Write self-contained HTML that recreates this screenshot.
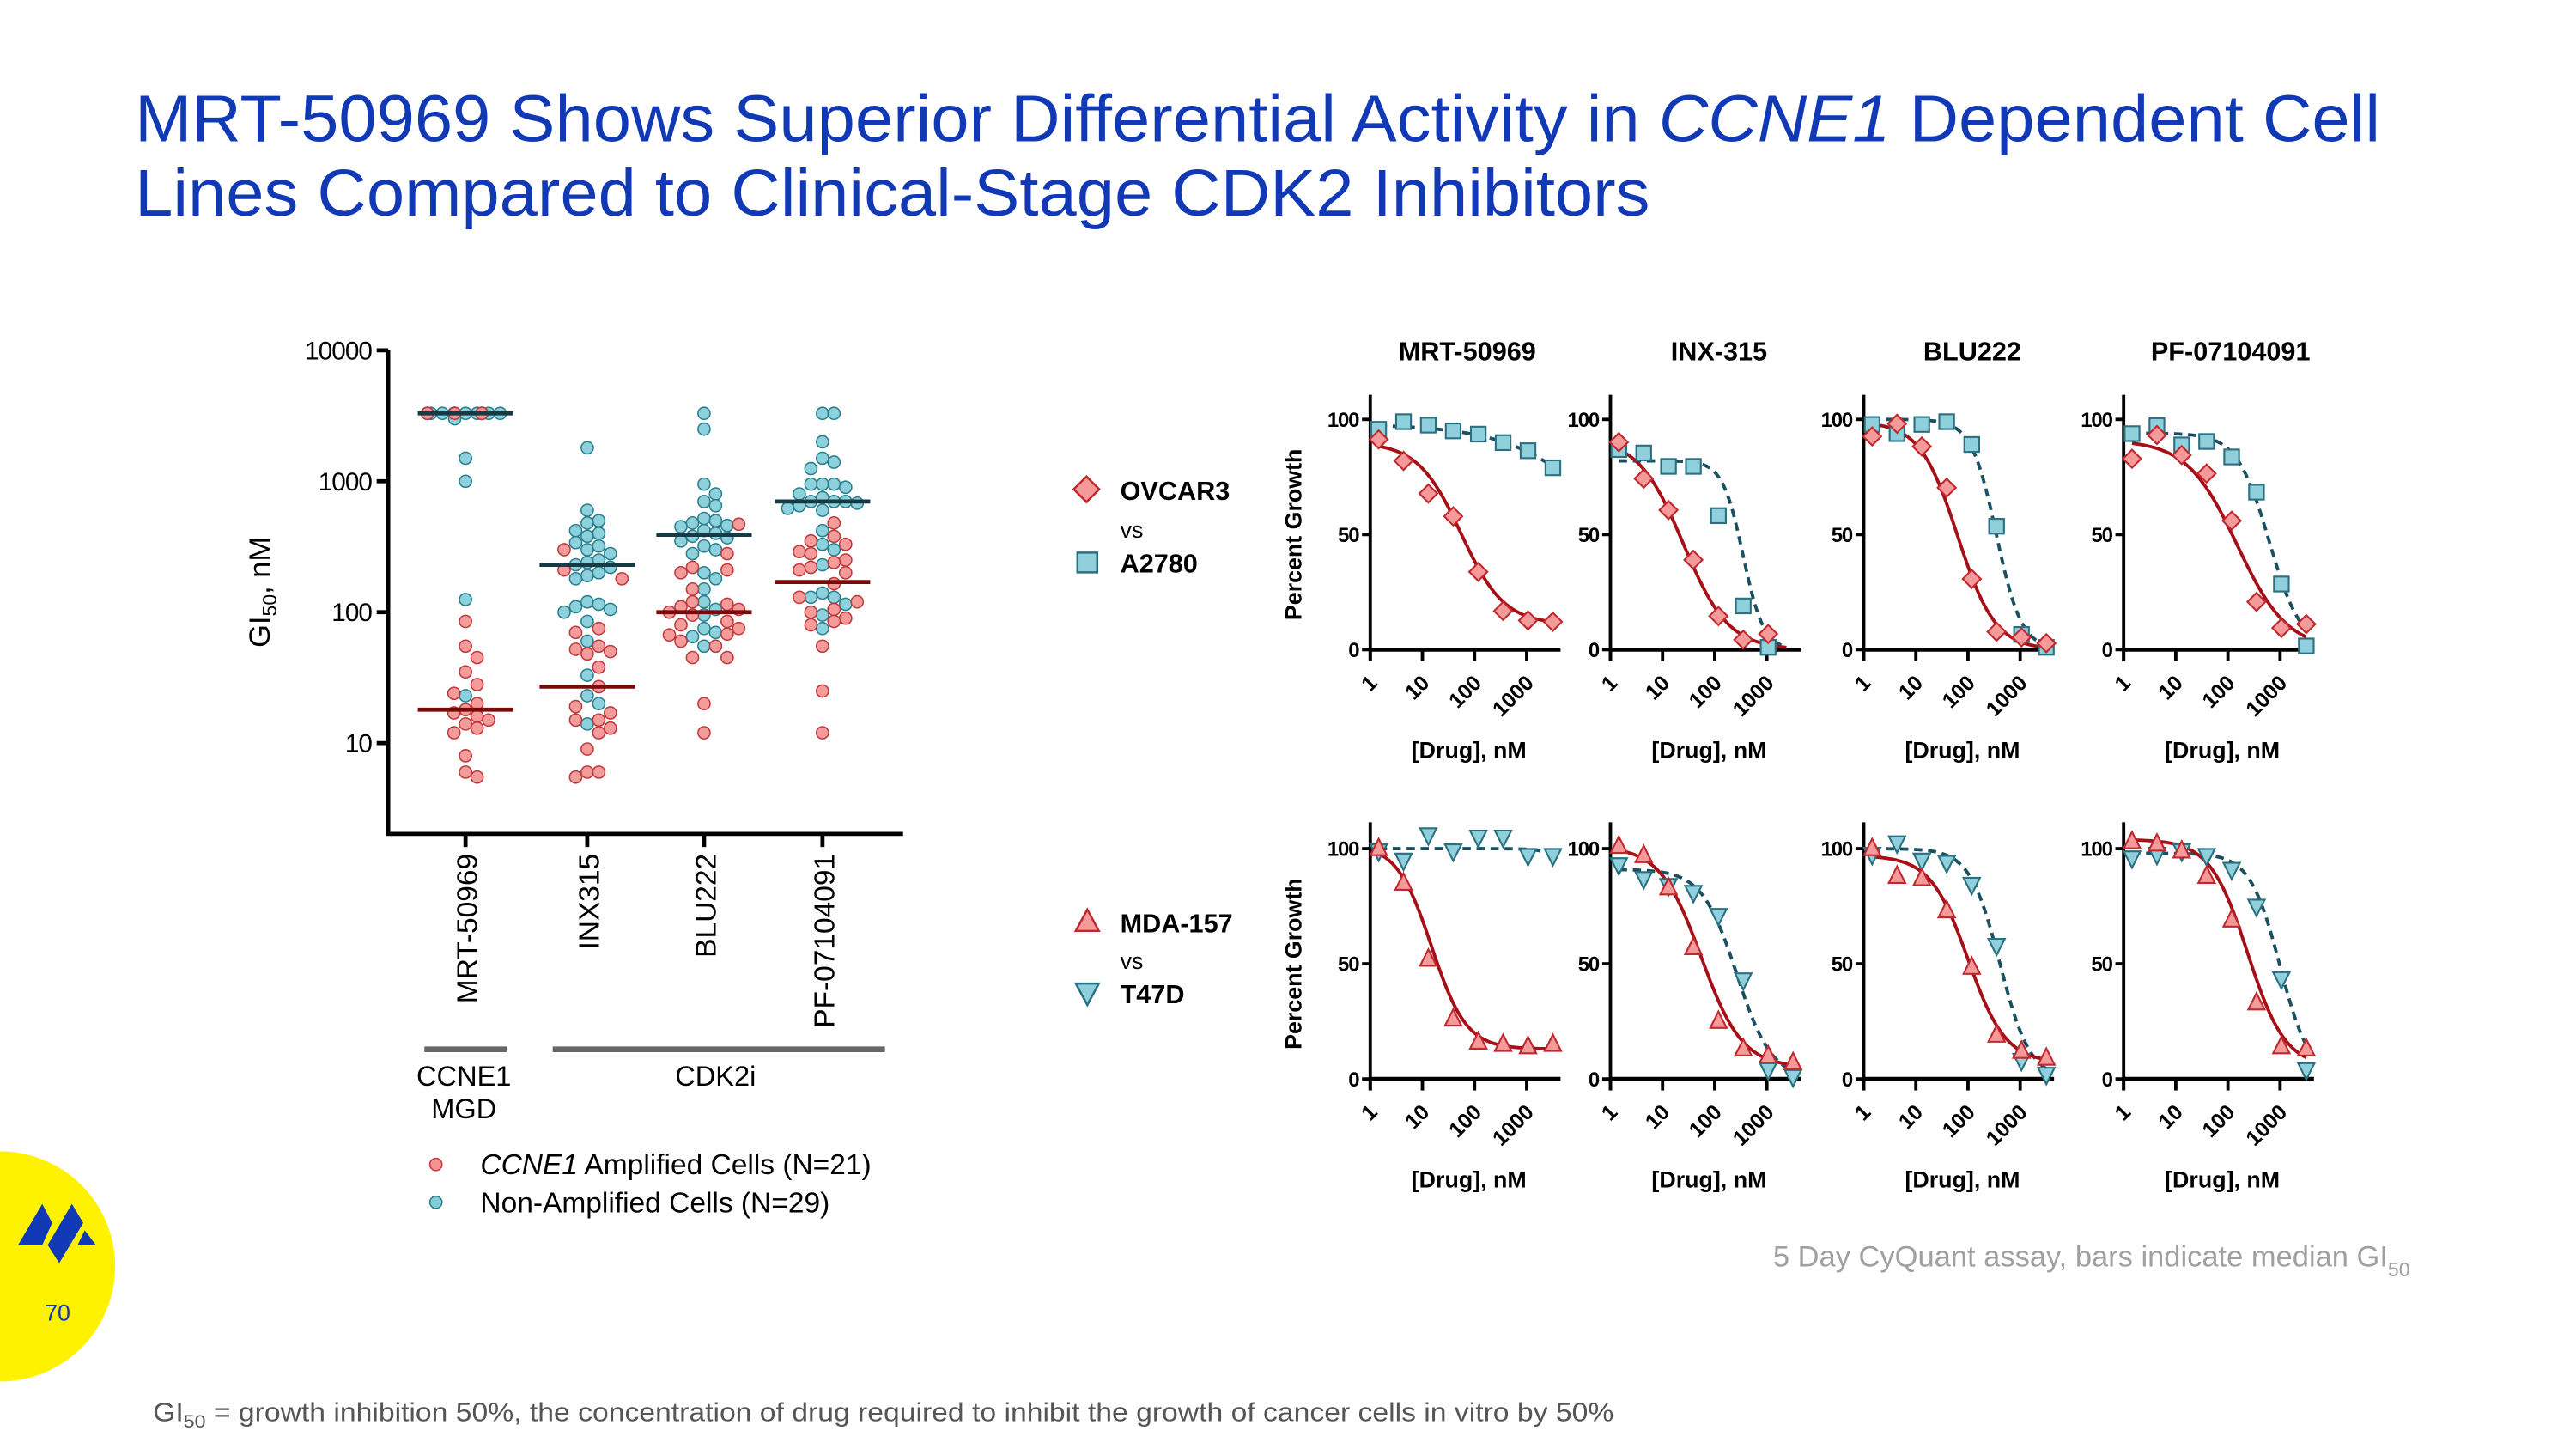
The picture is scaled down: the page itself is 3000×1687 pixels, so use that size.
<!DOCTYPE html>
<html><head><meta charset="utf-8"><style>
html,body{margin:0;padding:0;background:#fff}
svg{display:block}
text{font-family:"Liberation Sans",Arial,sans-serif}
</style></head><body>
<svg id="root" width="3000" height="1687" viewBox="0 0 1566 881" preserveAspectRatio="none" xmlns="http://www.w3.org/2000/svg">
<rect x="0" y="0" width="1566" height="881" fill="#fff"/>
<g fill="#1139b6" font-size="40">
<text x="82" y="86" textLength="1365" lengthAdjust="spacingAndGlyphs">MRT-50969 Shows Superior Differential Activity in <tspan font-style="italic">CCNE1</tspan> Dependent Cell</text>
<text x="82" y="131" textLength="921" lengthAdjust="spacingAndGlyphs">Lines Compared to Clinical-Stage CDK2 Inhibitors</text>
</g>

<g id="dotplot"></g>
<g id="panels"></g>

<g font-weight="bold" font-size="16">
<rect x="655" y="292" width="11" height="11" transform="rotate(45 660.5 297.5)" fill="#f59a9a" stroke="#c0282d" stroke-width="1.3"/>
<text x="681" y="304">OVCAR3</text>
<text x="681" y="327" font-weight="normal" font-size="14">vs</text>
<rect x="655" y="336" width="12" height="12" fill="#8fd0dc" stroke="#2a7080" stroke-width="1.3"/>
<text x="681" y="348">A2780</text>
</g>
<g font-weight="bold" font-size="16">
<polygon points="661,553 668,566 654,566" fill="#f59a9a" stroke="#c0282d" stroke-width="1.3"/>
<text x="681" y="567">MDA-157</text>
<text x="681" y="589" font-weight="normal" font-size="14">vs</text>
<polygon points="654,598 668,598 661,611" fill="#8fd0dc" stroke="#2a7080" stroke-width="1.3"/>
<text x="681" y="610">T47D</text>
</g>

<text x="1465" y="770" text-anchor="end" font-size="18" fill="#a0a0a0">5 Day CyQuant assay, bars indicate median GI<tspan font-size="12" dy="6">50</tspan></text>
<text x="93" y="864" font-size="16" fill="#555" textLength="888" lengthAdjust="spacingAndGlyphs">GI<tspan font-size="11" dy="4">50</tspan><tspan dy="-4"> = growth inhibition 50%, the concentration of drug required to inhibit the growth of cancer cells in vitro by 50%</tspan></text>

<g>
<circle cx="0" cy="770" r="70" fill="#fff200"/>
<polygon points="25.7,732 31.7,743.5 25.7,757 11,757" fill="#1139b6"/>
<polygon points="43.7,732 50.6,743.5 36,768 29,757" fill="#1139b6"/>
<polygon points="51.5,748 58.3,757 47.2,757" fill="#1139b6"/>
<text x="35" y="803" text-anchor="middle" font-size="14" fill="#1139b6">70</text>
</g>
</svg>
<script>
// ===== Dot plot data =====
const dotCategories = ["MRT-50969","INX315","BLU222","PF-07104091"];
const ampMRT = [3300,3300,3300,3300,85,55,45,35,28,24,20,18,17,16,15,14,13,12,8,6,5.5];
const ampINX = [300,210,180,75,70,55,52,50,48,38,27,19,17,15,15,13,12,9,6,6,5.5];
const ampBLU = [470,280,220,210,200,150,120,115,110,105,100,95,85,80,75,68,67,60,55,45,45,20,12];
const ampPF  = [480,380,350,330,290,280,250,240,220,210,200,165,130,120,105,100,90,85,80,55,25,12];
const nonMRT = [3300,3300,3300,3300,3300,3300,3300,3300,3300,3300,3300,3300,3300,3300,3300,3300,3300,3300,3300,3300,3300,3300,3300,3000,1500,1000,125,23];
const nonINX = [1800,600,500,480,420,400,380,340,320,300,280,250,240,230,220,200,190,180,120,115,110,105,100,85,60,33,23,20,14];
const nonBLU = [3300,2500,950,800,700,650,520,500,480,460,450,420,400,380,370,350,320,300,280,200,180,150,120,105,95,75,70,65,55];
const nonPF  = [3300,3300,2000,1500,1400,1250,950,950,950,900,800,750,700,700,700,680,650,620,600,420,330,300,230,140,130,130,115,95,75];
const ampMedians = [18,27,100,170];
const nonMedians = [3300,230,390,700];
const dotTicks = [10000,1000,100,10];
const dotTickLabels = ["10000","1000","100","10"];

// ===== Dose-response data =====
const panelDrugs = ["MRT-50969","INX-315","BLU222","PF-07104091"];
const doses = [1.45,4.35,13,39,118,353,1060,3180];
const xTickValues = [1,10,100,1000];
const xTickLabels = ["1","10","100","1000"];
const yTickValues = [0,50,100];
const yTickLabels = ["0","50","100"];
const ovcarMRT = [91.3,82,67.8,57.9,33.8,16.8,12.7,12.1];
const ovcarINX = [90.1,74.3,60.6,39,14.6,4.3,6.8];
const ovcarBLU = [92.6,98.1,88.2,70.3,30.7,7.8,5.3,2.8];
const ovcarPF  = [82.9,93.2,84.5,76.5,56,20.8,9.4,11.1];
const a2780MRT = [95.7,99,97.5,95,93.6,89.9,86.4,79];
const a2780INX = [86.9,85.4,79.6,79.6,58.2,19,1];
const a2780BLU = [97.8,93.8,97.8,99,89.1,53.6,6.6,1];
const a2780PF  = [93.8,97.3,88.9,90.4,83.7,68.4,28.5,1.6];
const mdaMRT = [100,85,52,26,16,15,14,15];
const mdaINX = [101,97,83,57,25,13,10,7];
const mdaBLU = [100,88,87,73,48.5,19,12,9];
const mdaPF  = [103,102,99,88,69,33,14,13];
const t47MRT = [99,95,106,99,105,105,97,97];
const t47INX = [93,87,84,81,71,43,4,1];
const t47BLU = [97.5,102.5,95,94,84.5,58,8,2];
const t47PF  = [96,97.5,99,97,91,75,43.5,4];
// 4PL fit parameters [top, bottom, ic50, hill]
const fitOvcar = [[90,11,55,1.05],[92,0,25,1.0],[99,0,63,1.2],[91,0,150,0.9]];
const fitA2780 = [[98,0,81000,0.45],[82,0,350,2.2],[100,0,350,1.8],[94,0,620,1.4]];
const fitMda   = [[102,13,15,1.3],[101,5,55,1.1],[97,7,100,1.2],[104,5,240,1.2]];
const fitT47   = [[100,0,19000,2],[91,0,265,1.3],[100,0,410,1.5],[98,0,1000,1.5]];

const NS = "http://www.w3.org/2000/svg";
function mk(tag, attrs, parent){const e=document.createElementNS(NS,tag);for(const k in attrs)e.setAttribute(k,attrs[k]);parent.appendChild(e);return e;}

// ===== Dot plot =====
(function(){
  const g = document.getElementById('dotplot');
  const axX=236, yTop=213, decade=79.6, baseY=507;
  const yScale = v => yTop + (4 - Math.log10(v))*decade;
  const catX = [283,357,428,500];
  let e = mk('line',{x1:axX,y1:yTop,x2:axX,y2:baseY+1,stroke:'#000','stroke-width':2.5},g);
  
  
  e = mk('line',{x1:axX-1,y1:baseY,x2:549,y2:baseY,stroke:'#000','stroke-width':2.5},g);
  
  
  dotTicks.forEach((t,i)=>{
    const y=yScale(t);
    let l=mk('line',{x1:axX-7,y1:y,x2:axX,y2:y,stroke:'#000','stroke-width':2.5},g);
    
    
    let tx=mk('text',{x:axX-10,y:y+5.5,'text-anchor':'end','font-size':15.5,'letter-spacing':'-0.5'},g);
    tx.textContent=dotTickLabels[i];
    
    
  });
  let yl=mk('text',{x:0,y:0,'font-size':18,'text-anchor':'middle',transform:'translate(164,360) rotate(-90)'},g);
  yl.innerHTML='GI<tspan font-size="12" dy="4">50</tspan><tspan dy="-4">, nM</tspan>';
  
  
  dotCategories.forEach((c,i)=>{
    let l=mk('line',{x1:catX[i],y1:baseY,x2:catX[i],y2:baseY+8,stroke:'#000','stroke-width':2.5},g);
    
    
    let t=mk('text',{x:0,y:0,'font-size':17.5,'text-anchor':'end',transform:`translate(${catX[i]+7},519) rotate(-90)`},g);
    t.textContent=c;
    
    
  });
  const amp=[ampMRT,ampINX,ampBLU,ampPF], non=[nonMRT,nonINX,nonBLU,nonPF];
  const R=3.7;
  dotCategories.forEach((c,i)=>{
    const pts=[];
    non[i].forEach(v=>pts.push({v,type:'non'}));
    amp[i].forEach(v=>pts.push({v,type:'amp'}));
    const placed=[];
    let overflow=0;
    pts.forEach((p,k)=>{
      const y=yScale(p.v);
      let off=null;
      for(let s=0;s<=3;s++){
        const cands = s===0?[0]:[s*R*1.9,-s*R*1.9];
        for(const o of cands){
          if(!placed.some(q=>Math.hypot(q.o-o,q.y-y)<R*1.9)){off=o;break;}
        }
        if(off!==null)break;
      }
      if(off===null){ off=((overflow*5)%15-7)*3.3; overflow++; }
      placed.push({o:off,y});
      p.o=off;p.y=y;
    });
    pts.forEach(p=>{
      const isAmp=p.type==='amp';
      let d=mk('circle',{cx:catX[i]+p.o,cy:p.y,r:R,fill:isAmp?'#f39393':'#82cdd8','fill-opacity':0.92,stroke:isAmp?'#c0393b':'#2a7f8e','stroke-width':0.8},g);
      
      
    });
    let m1=mk('line',{x1:catX[i]-29,x2:catX[i]+29,y1:yScale(nonMedians[i]),y2:yScale(nonMedians[i]),stroke:'#173b45','stroke-width':2.5},g);
    
    
    let m2=mk('line',{x1:catX[i]-29,x2:catX[i]+29,y1:yScale(ampMedians[i]),y2:yScale(ampMedians[i]),stroke:'#7a0a0a','stroke-width':2.5},g);
    
    
  });
  let b1=mk('line',{x1:258,x2:308,y1:638,y2:638,stroke:'#666','stroke-width':3.5},g);
  
  
  let b2=mk('line',{x1:336,x2:538,y1:638,y2:638,stroke:'#666','stroke-width':3.5},g);
  
  
  let g1=mk('text',{x:282,y:660,'font-size':17,'text-anchor':'middle'},g);
  g1.textContent='CCNE1';
  
  
  let g2=mk('text',{x:282,y:680,'font-size':17,'text-anchor':'middle'},g);
  g2.textContent='MGD';
  
  
  let g3=mk('text',{x:435,y:660,'font-size':17,'text-anchor':'middle'},g);
  g3.textContent='CDK2i';
  
  
  let lc1=mk('circle',{cx:265,cy:708,r:3.7,fill:'#f39393',stroke:'#c0393b','stroke-width':0.8},g);
  
  
  let lt1=mk('text',{x:292,y:714,'font-size':17.5},g);
  lt1.innerHTML='<tspan font-style="italic">CCNE1</tspan> Amplified Cells (N=21)';
  
  
  let lc2=mk('circle',{cx:265,cy:731,r:3.7,fill:'#82cdd8',stroke:'#2a7f8e','stroke-width':0.8},g);
  
  
  let lt2=mk('text',{x:292,y:737,'font-size':17.5},g);
  lt2.textContent='Non-Amplified Cells (N=29)';
  
  
})();

// ===== Dose-response panels =====
(function(){
  const g=document.getElementById('panels');
  const axXs=[833,979,1133,1291];
  const rows=[{y100:255,y0:395,top:240},{y100:516,y0:656,top:500}];
  const dec=31.7, xLen=3.65;
  const titleX=[892,1045,1199,1356];
  panelDrugs.forEach((d,i)=>{
    let t=mk('text',{x:titleX[i],y:219,'font-size':16,'font-weight':'bold','text-anchor':'middle'},g);
    t.textContent=d;
    
    
  });
  const rowData=[
    {a:[ovcarMRT,ovcarINX,ovcarBLU,ovcarPF],b:[a2780MRT,a2780INX,a2780BLU,a2780PF],fa:fitOvcar,fb:fitA2780,ma:'diamond',mb:'square',na:'ovcar3',nb:'a2780'},
    {a:[mdaMRT,mdaINX,mdaBLU,mdaPF],b:[t47MRT,t47INX,t47BLU,t47PF],fa:fitMda,fb:fitT47,ma:'up',mb:'down',na:'mda157',nb:'t47d'}
  ];
  rows.forEach((r,ri)=>{
    let pg=mk('text',{x:0,y:0,'font-size':14,'font-weight':'bold','text-anchor':'middle',transform:`translate(791,${(r.y100+r.y0)/2}) rotate(-90)`},g);
    pg.textContent='Percent Growth';
    
    
    const rd=rowData[ri];
    axXs.forEach((ax,pi)=>{
      const xS=v=>ax+Math.log10(v)*dec;
      const yS=v=>r.y0-(v/100)*(r.y0-r.y100);
      let ya=mk('line',{x1:ax,y1:r.top,x2:ax,y2:r.y0+7,stroke:'#000','stroke-width':2},g);
      
      
      let xa=mk('line',{x1:ax,y1:r.y0,x2:ax+xLen*dec,y2:r.y0,stroke:'#000','stroke-width':2.5},g);
      
      
      yTickValues.forEach((v,k)=>{
        let tl=mk('line',{x1:ax-5,x2:ax,y1:yS(v),y2:yS(v),stroke:'#000','stroke-width':2},g);
        
        
        let tt=mk('text',{x:ax-7,y:yS(v)+4.5,'font-size':12.5,'font-weight':'bold','text-anchor':'end','letter-spacing':'-0.6'},g);
        tt.textContent=yTickLabels[k];
        
        
      });
      xTickValues.forEach((v,k)=>{
        const x=xS(v);
        let tl=mk('line',{x1:x,x2:x,y1:r.y0,y2:r.y0+7,stroke:'#000','stroke-width':2},g);
        
        
        let tt=mk('text',{x:0,y:0,'font-size':13,'font-weight':'bold','text-anchor':'end',transform:`translate(${x+5},${r.y0+21}) rotate(-45)`},g);
        tt.textContent=xTickLabels[k];
        
        
      });
      let xt=mk('text',{x:ax+60,y:r.y0+66,'font-size':14,'font-weight':'bold','text-anchor':'middle'},g);
      xt.textContent='[Drug], nM';
      
      
      const drawCurve=(p,n,dashed,color)=>{
        const x0=Math.log10(doses[0]), x1=Math.log10(doses[n-1]) + (pi===1&&ri===0?0.35:0);
        let dd='';
        for(let s=0;s<=80;s++){
          const lx=x0+(x1-x0)*s/80, c=Math.pow(10,lx);
          const yv=p[1]+(p[0]-p[1])/(1+Math.pow(c/p[2],p[3]));
          dd+=(s?'L':'M')+xS(c).toFixed(2)+','+yS(yv).toFixed(2);
        }
        const attrs={d:dd,fill:'none',stroke:color,'stroke-width':2};
        if(dashed){attrs['stroke-dasharray']='5,3.5';}
        return mk('path',attrs,g);
      };
      let c2=drawCurve(rd.fb[pi],rd.b[pi].length,true,'#1a5060');
      
      
      let c1=drawCurve(rd.fa[pi],rd.a[pi].length,false,'#a50f15');
      
      
      const marker=(type,x,y)=>{
        if(type==='diamond') return mk('polygon',{points:`${x},${y-5.5} ${x+5.5},${y} ${x},${y+5.5} ${x-5.5},${y}`,fill:'#f59a9a',stroke:'#c0282d','stroke-width':1.1},g);
        if(type==='square') return mk('rect',{x:x-4.5,y:y-4.5,width:9,height:9,fill:'#8fd0dc',stroke:'#2a7080','stroke-width':1.1},g);
        if(type==='up') return mk('polygon',{points:`${x},${y-6} ${x+5},${y+4} ${x-5},${y+4}`,fill:'#f59a9a',stroke:'#c0282d','stroke-width':1.1},g);
        return mk('polygon',{points:`${x-5},${y-4} ${x+5},${y-4} ${x},${y+6}`,fill:'#8fd0dc',stroke:'#2a7080','stroke-width':1.1},g);
      };
      rd.b[pi].forEach((v,k)=>{
        let m=marker(rd.mb,xS(doses[k]),yS(v));
        
        
      });
      rd.a[pi].forEach((v,k)=>{
        let m=marker(rd.ma,xS(doses[k]),yS(v));
        
        
      });
    });
  });
})();
</script>
</body></html>
